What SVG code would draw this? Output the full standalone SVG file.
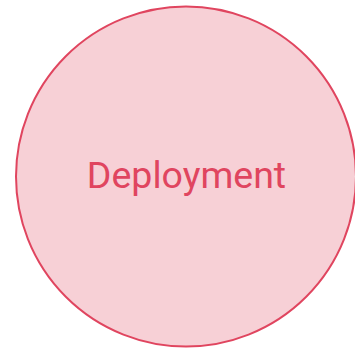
<svg xmlns="http://www.w3.org/2000/svg" width="355" height="350" viewBox="0 0 355 350">
<style>
.node-shape{fill:#f7d0d6;stroke:#e0455f;stroke-width:2}
.node-label{font-family:Roboto,"Liberation Sans",sans-serif;font-size:37.5px;fill:#e0455f;text-anchor:middle}
</style>
<rect width="355" height="350" fill="#ffffff"/>
<g id="connectors"></g>
<g id="deployment">
<circle class="node-shape" cx="186" cy="176.5" r="170"/>
<text class="node-label" x="186.5" y="188">Deployment</text>
</g>
</svg>
